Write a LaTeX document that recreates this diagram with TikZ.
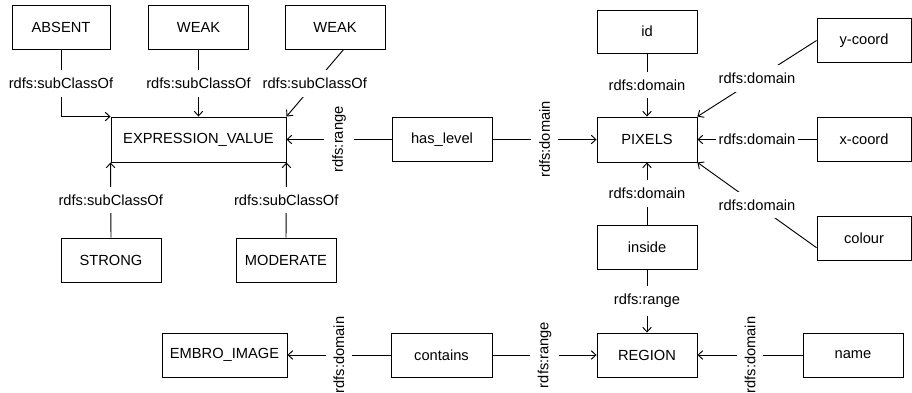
\documentclass[tikz,border=0pt]{standalone}
\usepackage{fontspec}
\setmainfont{Liberation Sans}
\usetikzlibrary{arrows.meta}
\begin{document}
\begin{tikzpicture}[x=0.75pt,y=-0.75pt,
  box/.style={draw, line width=0.7pt, minimum height=33pt, inner sep=0pt, font=\fontsize{11}{13}\selectfont},
  lab/.style={fill=white, inner xsep=2pt, inner ysep=6pt, font=\fontsize{11}{13}\selectfont},
  conn/.style={line width=0.7pt},
  arr/.style={conn, -{Straight Barb[length=3.5pt,width=6.5pt]}},
]
\useasboundingbox (0,0) rectangle (912,392);
% boxes
\node[box, minimum width=73.5pt] (absent) at (61,27.5) {ABSENT};
\node[box, minimum width=75pt] (weaka) at (198.5,27.5) {WEAK};
\node[box, minimum width=75pt] (weakb) at (335,27.5) {WEAK};
\node[box, minimum width=131.25pt, minimum height=33.75pt] (ev) at (198.5,139.5) {EXPRESSION\_VALUE};
\node[box, minimum width=75pt] (strong) at (111,260) {STRONG};
\node[box, minimum width=75pt] (moderate) at (286,260) {MODERATE};
\node[box, minimum width=75pt] (haslevel) at (442,139.5) {has\_level};
\node[box, minimum width=75pt, minimum height=33.75pt] (pixels) at (647,139.5) {PIXELS};
\node[box, minimum width=75pt, minimum height=32.25pt] (id) at (647,31.5) {id};
\node[box, minimum width=70.5pt] (ycoord) at (864,40.5) {y-coord};
\node[box, minimum width=70.5pt] (xcoord) at (864,139.5) {x-coord};
\node[box, minimum width=70.5pt] (colour) at (864,238.5) {colour};
\node[box, minimum width=75pt] (inside) at (647,247) {inside};
\node[box, minimum width=75pt] (region) at (647,355) {REGION};
\node[box, minimum width=75.75pt] (contains) at (441.5,355) {contains};
\node[box, minimum width=93.75pt] (embro) at (224.5,355) {EMBRO\_IMAGE};
\node[box, minimum width=75pt] (name) at (853,355) {name};
% connectors
\draw[arr] (absent.south) |- node[lab, pos=0.25] {rdfs:subClassOf} (ev.north west);
\draw[arr] (weaka.south) -- node[lab] {rdfs:subClassOf} (ev.north);
\draw[arr] (weakb.-70) -- node[lab] {rdfs:subClassOf} (ev.north east);
\draw[arr] (strong.north) -- node[lab] {rdfs:subClassOf} (ev.south west);
\draw[arr] (moderate.north) -- node[lab] {rdfs:subClassOf} (ev.south east);
\draw[arr] (haslevel.west) -- node[lab, rotate=90] {rdfs:range} (ev.east);
\draw[arr] (haslevel.east) -- node[lab, rotate=90] {rdfs:domain} (pixels.west);
\draw[arr] (id.south) -- node[lab] {rdfs:domain} (pixels.north);
\draw[arr] (ycoord.west) -- node[lab] {rdfs:domain} (pixels.north east);
\draw[arr] (xcoord.west) -- node[lab] {rdfs:domain} (pixels.east);
\draw[arr] (colour.191) -- node[lab] {rdfs:domain} (pixels.south east);
\draw[arr] (inside.north) -- node[lab] {rdfs:domain} (pixels.south);
\draw[arr] (inside.south) -- node[lab] {rdfs:range} (region.north);
\draw[arr] (contains.west) -- node[lab, rotate=90] {rdfs:domain} (embro.east);
\draw[arr] (contains.east) -- node[lab, rotate=90] {rdfs:range} (region.west);
\draw[arr] (name.west) -- node[lab, rotate=90] {rdfs:domain} (name.west -| region.east);
\end{tikzpicture}
\end{document}
